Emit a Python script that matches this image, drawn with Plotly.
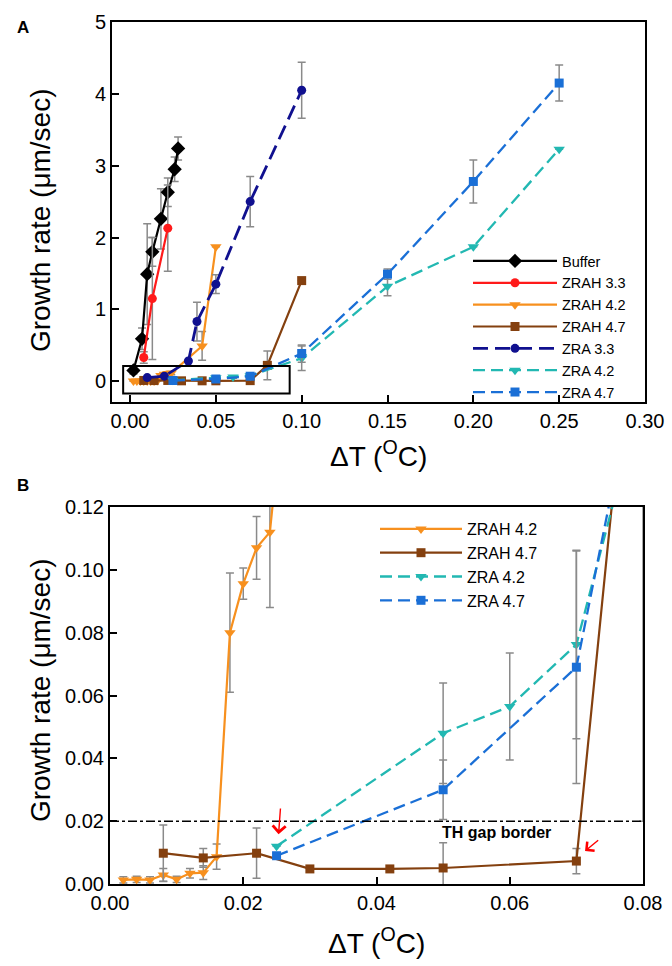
import plotly.graph_objects as go

# ---------------- data ----------------
buffer_x = [0.002, 0.007, 0.010, 0.013, 0.018, 0.022, 0.026, 0.028]
buffer_y = [0.15, 0.59, 1.49, 1.80, 2.26, 2.63, 2.95, 3.24]
buffer_e = [0.05, 0.15, 0.70, 0.20, 0.42, 0.20, 0.17, 0.16]

zrah33_x = [0.008, 0.013, 0.022]
zrah33_y = [0.33, 1.15, 2.13]
zrah33_e = [0.08, 0.85, 0.60]

zrah42_x = [0.002, 0.004, 0.006, 0.008, 0.010, 0.012, 0.014, 0.016, 0.018, 0.020, 0.022, 0.024, 0.042, 0.050]
zrah42_y = [0.0013, 0.0015, 0.0013, 0.0029, 0.0015, 0.0034, 0.0036, 0.0087, 0.080, 0.0956, 0.107, 0.112, 0.49, 1.87]
zrah42_e = [0.001, 0.001, 0.001, 0.002, 0.001, 0.0015, 0.0022, 0.004, 0.019, 0.005, 0.010, 0.024, 0.20, 0.0]

zrah47_x = [0.008, 0.014, 0.022, 0.030, 0.042, 0.050, 0.070, 0.080, 0.100]
zrah47_y = [0.0098, 0.0083, 0.0098, 0.0048, 0.0048, 0.0051, 0.0073, 0.22, 1.40]
zrah47_e = [0.009, 0.003, 0.008, 0.0, 0.0, 0.008, 0.004, 0.20, 0.0]

zra33_x = [0.010, 0.020, 0.034, 0.039, 0.050, 0.070, 0.100]
zra33_y = [0.05, 0.07, 0.28, 0.83, 1.35, 2.50, 4.05]
zra33_e = [0.0, 0.0, 0.0, 0.27, 0.13, 0.35, 0.39]

zra42_x = [0.025, 0.050, 0.060, 0.070, 0.100, 0.150, 0.200, 0.250]
zra42_y = [0.012, 0.048, 0.0565, 0.0762, 0.32, 1.32, 1.87, 3.23]
zra42_e = [0.0, 0.016, 0.017, 0.030, 0.17, 0.13, 0.0, 0.0]

zra47_x = [0.025, 0.050, 0.070, 0.100, 0.150, 0.200, 0.250]
zra47_y = [0.009, 0.030, 0.069, 0.385, 1.49, 2.78, 4.15]
zra47_e = [0.0, 0.0095, 0.037, 0.12, 0.07, 0.30, 0.25]

th_gap = 0.02

# ---------------- styling ----------------
FONT = "Liberation Sans, Arial, sans-serif"
GRAY = "#8a8a8a"

series = [
    dict(name="Buffer", x=buffer_x, y=buffer_y, e=buffer_e, color="#000000",
         symbol="diamond", size=11, dash="solid", lw=2.2, inB=False),
    dict(name="ZRAH 3.3", x=zrah33_x, y=zrah33_y, e=zrah33_e, color="#ff1a1a",
         symbol="circle", size=9, dash="solid", lw=2.2, inB=False),
    dict(name="ZRAH 4.2", x=zrah42_x, y=zrah42_y, e=zrah42_e, color="#f7901e",
         symbol="triangle-down", size=10, dash="solid", lw=2.2, inB=True),
    dict(name="ZRAH 4.7", x=zrah47_x, y=zrah47_y, e=zrah47_e, color="#84400f",
         symbol="square", size=9, dash="solid", lw=2.2, inB=True),
    dict(name="ZRA 3.3", x=zra33_x, y=zra33_y, e=zra33_e, color="#10108f",
         symbol="circle", size=9, dash="15px,7px", lw=2.8, inB=False),
    dict(name="ZRA 4.2", x=zra42_x, y=zra42_y, e=zra42_e, color="#22b8b2",
         symbol="triangle-down", size=10, dash="12px,6px", lw=2.3, inB=True),
    dict(name="ZRA 4.7", x=zra47_x, y=zra47_y, e=zra47_e, color="#1a6fd6",
         symbol="square", size=9, dash="12px,6px", lw=2.3, inB=True),
]

fig = go.Figure()

for panel in ("A", "B"):
    for s in series:
        if panel == "B" and not s["inB"]:
            continue
        fig.add_trace(go.Scatter(
            x=s["x"], y=s["y"], name=s["name"], mode="lines+markers",
            line=dict(color=s["color"], width=s["lw"], dash=s["dash"]),
            marker=dict(symbol=s["symbol"], size=s["size"], color=s["color"]),
            error_y=dict(type="data", array=s["e"], visible=True,
                         color=GRAY, thickness=1.5, width=4),
            xaxis="x" if panel == "A" else "x2",
            yaxis="y" if panel == "A" else "y2",
            legend="legend" if panel == "A" else "legend2",
            showlegend=True,
        ))

W, H = 672, 966
axA_x = [112 / W, 645 / W]
axA_y = [1 - 402 / H, 1 - 22 / H]
axB_x = [110 / W, 643 / W]
axB_y = [1 - 884 / H, 1 - 507 / H]

axis_common = dict(showline=True, linecolor="black", linewidth=2, mirror=True,
                   ticks="inside", ticklen=7, tickwidth=1.5, tickcolor="black",
                   showgrid=False, zeroline=False, automargin=False,
                   tickfont=dict(family=FONT, size=20, color="black"))

title_font = dict(family=FONT, size=28, color="black")

fig.update_layout(
    template="none",
    width=W, height=H,
    margin=dict(l=0, r=0, t=0, b=0, autoexpand=False),
    paper_bgcolor="white", plot_bgcolor="white",
    font=dict(family=FONT, color="black"),
    xaxis=dict(domain=axA_x, range=[-0.0105, 0.30], dtick=0.05, tick0=0, tickformat=".2f",
               anchor="y", **axis_common),
    yaxis=dict(domain=axA_y, range=[-0.29, 5.0], dtick=1, tick0=0, tickformat="d",
               anchor="x", **axis_common),
    xaxis2=dict(domain=axB_x, range=[0, 0.08], dtick=0.02, tick0=0, tickformat=".2f",
                anchor="y2", **axis_common),
    yaxis2=dict(domain=axB_y, range=[0, 0.12], dtick=0.02, tick0=0, tickformat=".2f",
                anchor="x2", **axis_common),
    legend=dict(x=468 / W, y=1 - 245 / H, xanchor="left", yanchor="top",
                bgcolor="rgba(0,0,0,0)", itemwidth=84, tracegroupgap=0,
                font=dict(family=FONT, size=14.5, color="black")),
    legend2=dict(x=375 / W, y=1 - 512 / H, xanchor="left", yanchor="top",
                 bgcolor="rgba(0,0,0,0)", itemwidth=82, tracegroupgap=0,
                 font=dict(family=FONT, size=16, color="black")),
)

# axis titles
xt = "ΔT (<sup>O</sup>C)"
yt = "Growth rate (μm/sec)"
fig.add_annotation(xref="paper", yref="paper", x=378 / W, y=1 - 454 / H, text=xt,
                   showarrow=False, xanchor="center", yanchor="middle", font=title_font)
fig.add_annotation(xref="paper", yref="paper", x=376 / W, y=1 - 941 / H, text=xt,
                   showarrow=False, xanchor="center", yanchor="middle", font=title_font)
fig.add_annotation(xref="paper", yref="paper", x=40 / W, y=1 - 220 / H, text=yt, textangle=-90,
                   showarrow=False, xanchor="center", yanchor="middle", font=title_font)
fig.add_annotation(xref="paper", yref="paper", x=40 / W, y=1 - 690 / H, text=yt, textangle=-90,
                   showarrow=False, xanchor="center", yanchor="middle", font=title_font)

# black box marking the zoomed region in panel A
fig.add_shape(type="rect", xref="x", yref="y", x0=-0.004, x1=0.093, y0=-0.17, y1=0.21,
              line=dict(color="black", width=2), fillcolor="rgba(0,0,0,0)")

# TH gap border in panel B
fig.add_shape(type="line", xref="x2", yref="y2", x0=0, x1=0.08, y0=th_gap, y1=th_gap,
              line=dict(color="black", width=1.5, dash="dashdot"))
fig.add_annotation(xref="x2", yref="y2", x=0.058, y=0.0163, text="<b>TH gap border</b>",
                   showarrow=False, font=dict(family=FONT, size=16, color="black"))

# red arrows
fig.add_annotation(xref="x2", yref="y2", axref="x2", ayref="y2",
                   x=0.0253, y=0.0158, ax=0.0256, ay=0.0245, text="",
                   showarrow=True, arrowhead=4, arrowsize=1.8, arrowwidth=1.4, arrowcolor="red")
fig.add_annotation(xref="x2", yref="y2", axref="x2", ayref="y2",
                   x=0.0713, y=0.0105, ax=0.0735, ay=0.0143, text="",
                   showarrow=True, arrowhead=4, arrowsize=1.6, arrowwidth=1.4, arrowcolor="red")

# panel letters
fig.add_annotation(xref="paper", yref="paper", x=15 / W, y=1 - 16 / H, text="<b>A</b>",
                   showarrow=False, font=dict(family=FONT, size=17, color="black"))
fig.add_annotation(xref="paper", yref="paper", x=15 / W, y=1 - 486 / H, text="<b>B</b>",
                   showarrow=False, font=dict(family=FONT, size=17, color="black"))

fig.write_html("out.html", config={"displayModeBar": False},
               post_script="document.body.style.margin='0';document.body.style.overflow='hidden';")
